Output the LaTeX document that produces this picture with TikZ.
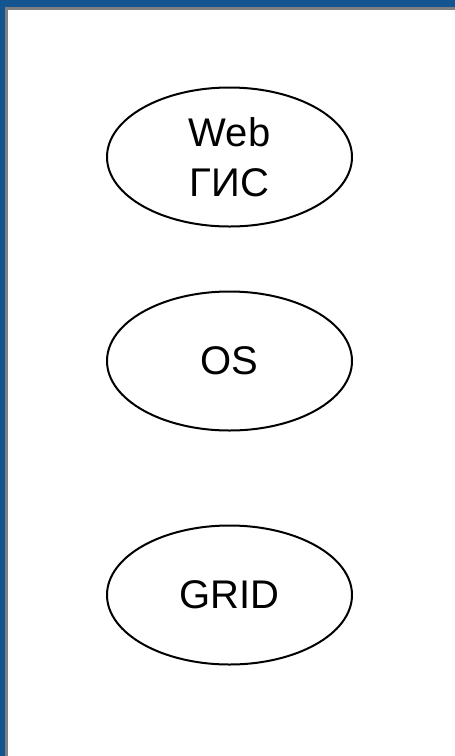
\documentclass[tikz,border=0pt]{standalone}
\usepackage{fontspec}
\setmainfont{Liberation Sans}
\usepackage{tikz}
\usetikzlibrary{shapes.geometric}
\usepackage{xcolor}
\definecolor{slideblue}{RGB}{20,84,144}
\definecolor{framegray}{RGB}{128,128,128}

\begin{document}
\begin{tikzpicture}[x=1pt, y={(0pt,-1pt)},
	layer/.style={draw=black, line width=2pt, ellipse, fill=white,
		minimum width=245pt, minimum height=139pt, inner sep=0pt,
		align=center, font=\fontsize{40}{50}\selectfont}]
	\useasboundingbox (0,0) rectangle (455,756);
	\fill[slideblue] (0,0) rectangle (455,756);
	\fill[framegray] (5,7) rectangle (455,756);
	\fill[white] (8,9.5) rectangle (455,756);
	
	\node[layer] (web) at (229.5,157) {Web\\ГИС};
	
	\node[layer] (os) at (229.5,361) {OS};
	
	\node[layer] (grid) at (229.5,595) {GRID};
	
\end{tikzpicture}
\end{document}
